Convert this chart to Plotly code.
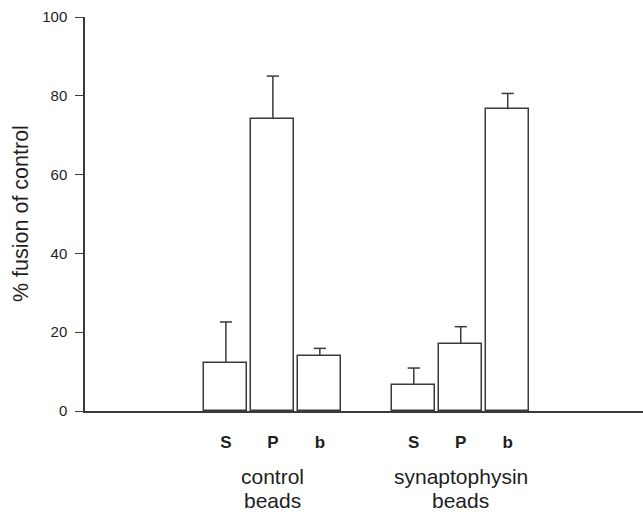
import plotly.graph_objects as go

categories = ["S", "P", "b", "S", "P", "b"]
positions = [0, 1, 2, 4, 5, 6]
values = [12.3, 74.1, 14.0, 6.7, 17.1, 76.6]
errors = [10.3, 10.9, 1.9, 4.2, 4.3, 4.0]
group_line1 = ["control", "synaptophysin"]
group_line2 = ["beads", "beads"]
group_pos = [1, 5]
y_ticks = [0, 20, 40, 60, 80, 100]

FONT = "Arial, Liberation Sans, sans-serif"
LINE = "#3a3a3a"
TXT = "#1e1e1e"
CAP = 0.13

fig = go.Figure()
fig.add_trace(go.Bar(
    x=positions, y=values, width=0.915,
    marker=dict(color="white", line=dict(color=LINE, width=1.5)),
    showlegend=False, hoverinfo="skip",
))

# upward-only error bars: stem + top cap
ex, ey = [], []
for p, v, e in zip(positions, values, errors):
    ex += [p, p, None, p - CAP, p + CAP, None]
    ey += [v, v + e, None, v + e, v + e, None]
fig.add_trace(go.Scatter(x=ex, y=ey, mode="lines",
                         line=dict(color=LINE, width=1.5),
                         showlegend=False, hoverinfo="skip"))

for l1, l2, p in zip(group_line1, group_line2, group_pos):
    fig.add_annotation(x=p, xref="x", y=0, yref="paper", yshift=-65,
                       yanchor="middle", text=l1, showarrow=False,
                       font=dict(family=FONT, size=21, color=TXT))
    fig.add_annotation(x=p, xref="x", y=0, yref="paper", yshift=-89,
                       yanchor="middle", text=l2, showarrow=False,
                       font=dict(family=FONT, size=21, color=TXT))

fig.add_annotation(x=0, xref="paper", xshift=-64, xanchor="center",
                   y=0.5, yref="paper", yanchor="middle",
                   text="% fusion of control", textangle=-90, showarrow=False,
                   font=dict(family=FONT, size=21.5, color=TXT))

fig.update_layout(
    width=643, height=514,
    margin=dict(l=85, r=0, t=17, b=103),
    paper_bgcolor="white", plot_bgcolor="white",
    xaxis=dict(range=[-3.0, 8.88], tickvals=positions,
               ticktext=["<b>%s</b>" % c for c in categories],
               showline=True, linecolor=LINE, linewidth=1.5,
               ticks="", ticklabelstandoff=15, showgrid=False, zeroline=False,
               tickfont=dict(family=FONT, size=17, color=TXT)),
    yaxis=dict(range=[0, 100], tickvals=y_ticks, showline=True,
               linecolor=LINE, linewidth=1.5, ticks="outside", ticklen=8,
               tickcolor=LINE, tickwidth=1.2, showgrid=False, zeroline=False,
               ticklabelstandoff=5,
               tickfont=dict(family=FONT, size=15, color=TXT)),
    bargap=0,
)

fig.write_html("out.html")
